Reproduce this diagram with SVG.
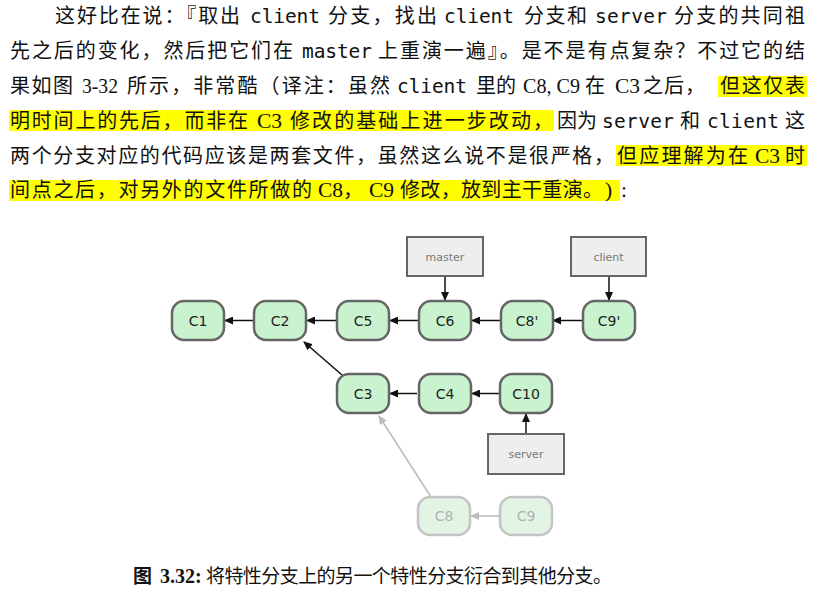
<svg xmlns="http://www.w3.org/2000/svg" width="824" height="603" viewBox="0 0 824 603">
<style>
.cjk{font-family:"Noto Sans CJK SC","Noto Sans",sans-serif;font-size:20px;fill:#111}
.mono{font-family:"DejaVu Sans Mono","Liberation Mono",monospace;font-size:19.5px;fill:#111}
.ser{font-family:"Liberation Serif","DejaVu Serif",serif;font-size:21.5px;fill:#111}
.hl{fill:#ffff00}
.node{fill:#c9f2cf;stroke:#666;stroke-width:2.5}
.fnode{fill:#e2f5e5;stroke:#c4c4c4;stroke-width:2.5}
.nl{font-family:"DejaVu Sans","Liberation Sans",sans-serif;font-size:14px;fill:#222;text-anchor:middle}
.fnl{font-family:"DejaVu Sans","Liberation Sans",sans-serif;font-size:14px;fill:#b0b0b0;text-anchor:middle}
.box{fill:#eeeeee;stroke:#666;stroke-width:2}
.bl{font-family:"DejaVu Sans","Liberation Sans",sans-serif;font-size:11px;fill:#777;text-anchor:middle}
.edge{stroke:#111;stroke-width:1.5;fill:none}
.fedge{stroke:#bbbbbb;stroke-width:1.5;fill:none}
</style>
<defs>
<marker id="ah" markerUnits="userSpaceOnUse" markerWidth="9" markerHeight="8" refX="8" refY="4" orient="auto"><path d="M0,0 L9,4 L0,8 z" fill="#111"/></marker>
<marker id="fah" markerUnits="userSpaceOnUse" markerWidth="9" markerHeight="8" refX="8" refY="4" orient="auto"><path d="M0,0 L9,4 L0,8 z" fill="#bbbbbb"/></marker>
</defs>
<rect width="824" height="603" fill="#ffffff"/>

<g id="paragraph">
<rect class="hl" x="718" y="76" width="89" height="21"/>
<rect class="hl" x="9" y="110" width="545" height="21"/>
<rect class="hl" x="616" y="145" width="191" height="21"/>
<rect class="hl" x="9" y="180" width="611" height="21"/>

<text class="cjk" x="55" y="22.5" textLength="185" lengthAdjust="spacing">这好比在说：『取出</text>
<text class="mono" x="250" y="22.5" textLength="70" lengthAdjust="spacing">client</text>
<text class="cjk" x="328" y="22.5" textLength="109" lengthAdjust="spacing">分支，找出</text>
<text class="mono" x="444" y="22.5" textLength="70" lengthAdjust="spacing">client</text>
<text class="cjk" x="524" y="22.5" textLength="63" lengthAdjust="spacing">分支和</text>
<text class="mono" x="595" y="22.5" textLength="72" lengthAdjust="spacing">server</text>
<text class="cjk" x="674" y="22.5" textLength="131" lengthAdjust="spacing">分支的共同祖</text>

<text class="cjk" x="10" y="58" textLength="283" lengthAdjust="spacing">先之后的变化，然后把它们在</text>
<text class="mono" x="302" y="58" textLength="70" lengthAdjust="spacing">master</text>
<text class="cjk" x="378" y="58" textLength="427" lengthAdjust="spacing">上重演一遍』。是不是有点复杂？不过它的结</text>

<text class="cjk" x="10" y="93" textLength="63" lengthAdjust="spacing">果如图</text>
<text class="ser" x="82" y="93" textLength="36" lengthAdjust="spacingAndGlyphs">3-32</text>
<text class="cjk" x="127" y="93" textLength="263" lengthAdjust="spacing">所示，非常酷（译注：虽然</text>
<text class="mono" x="397" y="93" textLength="70" lengthAdjust="spacing">client</text>
<text class="cjk" x="476" y="93" textLength="40" lengthAdjust="spacing">里的</text>
<text class="ser" x="523" y="93" textLength="57" lengthAdjust="spacingAndGlyphs">C8, C9</text>
<text class="cjk" x="585" y="93">在</text>
<text class="ser" x="615" y="93">C3</text>
<text class="cjk" x="643" y="93" textLength="62" lengthAdjust="spacing">之后，</text>
<text class="cjk" x="720" y="93" textLength="85" lengthAdjust="spacing">但这仅表</text>

<text class="cjk" x="10" y="128" textLength="238" lengthAdjust="spacing">明时间上的先后，而非在</text>
<text class="ser" x="257" y="128">C3</text>
<text class="cjk" x="290" y="128" textLength="263" lengthAdjust="spacing">修改的基础上进一步改动，</text>
<text class="cjk" x="557" y="128" textLength="40" lengthAdjust="spacing">因为</text>
<text class="mono" x="602" y="128" textLength="72" lengthAdjust="spacing">server</text>
<text class="cjk" x="680" y="128">和</text>
<text class="mono" x="707" y="128" textLength="72" lengthAdjust="spacing">client</text>
<text class="cjk" x="785" y="128">这</text>

<text class="cjk" x="10" y="162.5" textLength="604" lengthAdjust="spacing">两个分支对应的代码应该是两套文件，虽然这么说不是很严格，</text>
<text class="cjk" x="617" y="162.5" textLength="131" lengthAdjust="spacing">但应理解为在</text>
<text class="ser" x="755" y="162.5">C3</text>
<text class="cjk" x="785" y="162.5">时</text>

<text class="cjk" x="10" y="197" textLength="302" lengthAdjust="spacing">间点之后，对另外的文件所做的</text>
<text class="ser" x="318" y="197">C8</text>
<text class="cjk" x="343" y="197">，</text>
<text class="ser" x="369" y="197">C9</text>
<text class="cjk" x="400" y="197" textLength="203" lengthAdjust="spacing">修改，放到主干重演。</text>
<text class="ser" x="605" y="197">)</text>
<text class="ser" x="621" y="197">:</text>
</g>

<g id="connectors">
<line class="edge" x1="254" y1="320.5" x2="225" y2="320.5" marker-end="url(#ah)"/>
<line class="edge" x1="337" y1="320.5" x2="307" y2="320.5" marker-end="url(#ah)"/>
<line class="edge" x1="419" y1="320.5" x2="390" y2="320.5" marker-end="url(#ah)"/>
<line class="edge" x1="501" y1="320.5" x2="472" y2="320.5" marker-end="url(#ah)"/>
<line class="edge" x1="583" y1="320.5" x2="553" y2="320.5" marker-end="url(#ah)"/>
<line class="edge" x1="417" y1="393.5" x2="390" y2="393.5" marker-end="url(#ah)"/>
<line class="edge" x1="500" y1="393.5" x2="472" y2="393.5" marker-end="url(#ah)"/>
<line class="edge" x1="342" y1="375" x2="304" y2="342" marker-end="url(#ah)"/>
<line class="edge" x1="445" y1="276" x2="445" y2="300" marker-end="url(#ah)"/>
<line class="edge" x1="609" y1="276" x2="609" y2="300" marker-end="url(#ah)"/>
<line class="edge" x1="526" y1="434" x2="526" y2="414" marker-end="url(#ah)"/>
<line class="fedge" x1="431" y1="497" x2="379" y2="416" marker-end="url(#fah)"/>
<line class="fedge" x1="500" y1="516" x2="471" y2="516" marker-end="url(#fah)"/>
</g>

<g id="c1"><rect class="node" x="172" y="301" width="52" height="39" rx="12"/><text class="nl" x="198" y="325.5">C1</text></g>
<g id="c2"><rect class="node" x="254" y="301" width="52" height="39" rx="12"/><text class="nl" x="280" y="325.5">C2</text></g>
<g id="c5"><rect class="node" x="337" y="301" width="52" height="39" rx="12"/><text class="nl" x="363" y="325.5">C5</text></g>
<g id="c6"><rect class="node" x="419" y="301" width="52" height="39" rx="12"/><text class="nl" x="445" y="325.5">C6</text></g>
<g id="c8p"><rect class="node" x="501" y="301" width="52" height="39" rx="12"/><text class="nl" x="527" y="325.5">C8'</text></g>
<g id="c9p"><rect class="node" x="583" y="301" width="52" height="39" rx="12"/><text class="nl" x="609" y="325.5">C9'</text></g>
<g id="c3"><rect class="node" x="337" y="374" width="52" height="39" rx="12"/><text class="nl" x="363" y="398.5">C3</text></g>
<g id="c4"><rect class="node" x="419" y="374" width="52" height="39" rx="12"/><text class="nl" x="445" y="398.5">C4</text></g>
<g id="c10"><rect class="node" x="500" y="374" width="52" height="39" rx="12"/><text class="nl" x="526" y="398.5">C10</text></g>
<g id="c8"><rect class="fnode" x="418" y="497" width="52" height="38" rx="12"/><text class="fnl" x="444" y="521">C8</text></g>
<g id="c9"><rect class="fnode" x="500" y="497" width="52" height="38" rx="12"/><text class="fnl" x="526" y="521">C9</text></g>

<g id="master"><rect class="box" x="407" y="237" width="76" height="39"/><text class="bl" x="445" y="260.5">master</text></g>
<g id="client"><rect class="box" x="571" y="237" width="75" height="39"/><text class="bl" x="608.5" y="260.5">client</text></g>
<g id="server"><rect class="box" x="488" y="434" width="76" height="40"/><text class="bl" x="526" y="458">server</text></g>

<g id="caption">
<text x="133" y="583" style="font-family:'Noto Sans CJK SC','Noto Sans',sans-serif;font-size:19px;font-weight:bold;fill:#111">图</text>
<text x="160" y="583" style="font-family:'Liberation Serif',serif;font-size:20px;font-weight:bold;fill:#111">3.32:</text>
<text x="206" y="583" textLength="406" lengthAdjust="spacing" style="font-family:'Noto Sans CJK SC','Noto Sans',sans-serif;font-size:19px;fill:#111">将特性分支上的另一个特性分支衍合到其他分支。</text>
</g>
</svg>
